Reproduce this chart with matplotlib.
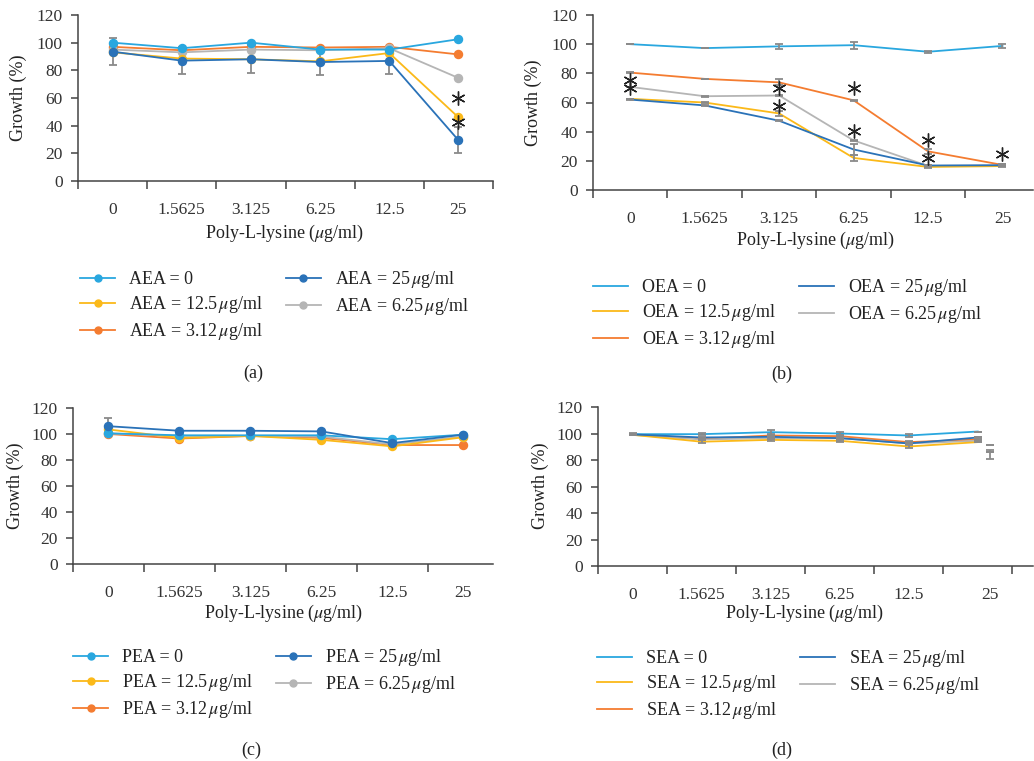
import numpy as np
import matplotlib.pyplot as plt
from matplotlib.lines import Line2D

plt.rcParams['font.family'] = ['Liberation Serif', 'DejaVu Serif']
plt.rcParams['mathtext.fontset'] = 'stix'

W, H = 1034, 761

# x categories (poly-L-lysine, ug/ml)
categories = ['0', '1.5625', '3.125', '6.25', '12.5', '25']
# legend order: 0, 12.5, 3.12, 25, 6.25
doses = ['0', '12.5', '3.12', '25', '6.25']
colors = ['#29a7df', '#fbb919', '#f47c30', '#2a72b8', '#b5b5b5']

# (a) AEA
aea_growth = [
    [100, 96, 100, 95, 95, 102.5],
    [93, 88.5, 88, 86.5, 92.5, 46],
    [97, 94.5, 97, 96.5, 97, 91.5],
    [93.5, 87, 88, 86, 86.8, 29.5],
    [95, 93, 95, 94.5, 96, 74.5],
]
aea_err = [
    [0, 0, 0, 0, 0, 0],
    [0, 0, 0, 0, 0, 0],
    [0, 0, 0, 0, 0, 0],
    [10, 10, 9.7, 9.5, 9.5, 9.6],
    [0, 0, 0, 0, 0, 0],
]
aea_star_x = [5, 5]
aea_star_y = [60, 43]

# (b) OEA
oea_growth = [
    [100, 97.3, 98.5, 99.3, 94.8, 98.8],
    [62.5, 60, 52.5, 22, 15.8, 16.4],
    [80.5, 76.2, 73.8, 61.5, 26.5, 17.2],
    [62, 58, 47.5, 27.8, 16.8, 17],
    [70.7, 64.3, 64.8, 34, 16.5, 16.8],
]
oea_err = [
    [0.2, 0.2, 1.5, 2.5, 0.8, 1.5],
    [0.2, 0.2, 2, 1.8, 0.6, 0.5],
    [0.2, 0.2, 2, 0.2, 1.5, 0.5],
    [0.2, 0.2, 0.2, 4, 0.5, 0.5],
    [0.2, 0.2, 0.2, 0.2, 0.5, 0.5],
]
oea_star_x = [0, 0, 2, 2, 3, 3, 4, 4, 5]
oea_star_y = [75.5, 69.8, 69.8, 57.7, 69.8, 40.2, 34.5, 21.9, 24.9]

# (c) PEA
pea_growth = [
    [100.5, 99, 99, 99, 96, 99.5],
    [103.5, 97, 98.5, 95.5, 90.5, 97.5],
    [100, 96.5, 98.5, 97, 91.5, 91.5],
    [106, 102.5, 102.5, 102, 93, 99.5],
    [100.5, 98.5, 98.5, 98, 92, 98],
]
pea_err = [
    [0, 0, 0, 0, 0, 0],
    [0, 0, 0, 0, 0, 0],
    [0, 0, 0, 0, 0, 0],
    [6, 0, 0, 0, 0, 0],
    [0, 0, 0, 0, 0, 0],
]

# (d) SEA
sea_growth = [
    [99.5, 99.5, 101, 100, 98.5, 101.5],
    [99, 93.8, 95.2, 94.5, 90.2, 93.5],
    [99.3, 96, 98.5, 98, 93.5, 95.5],
    [99.3, 97, 97.5, 96.5, 92.5, 97],
    [99, 95.5, 96.5, 96.5, 92.5, 94.5],
]
sea_err = [
    [0.6, 0.8, 1.5, 1.2, 0.8, 0],
    [0.5, 1, 1, 1, 0.8, 0],
    [0.5, 0.5, 0.5, 0.5, 0.5, 0],
    [0.5, 0.5, 1.5, 2, 0.8, 0],
    [0.5, 0.5, 0.5, 0.5, 0.5, 0],
]
# stray error bars right of the last point
sea_extra_x = [5.17, 5.17, 5.17]
sea_extra_y = [91.5, 86, 84]
sea_extra_err = [0, 0, 3.3]

draw_order = [2, 4, 1, 0, 3]

fig = plt.figure(figsize=(W / 100, H / 100), dpi=100)


def rect(left, right, top, bottom):
    return [left / W, 1 - bottom / H, (right - left) / W, (bottom - top) / H]


def panel(r, xmax, growth, err, markers, err_on_top, label_x=None):
    ax = fig.add_axes(r)
    x = np.arange(len(categories))
    for i in draw_order:
        ax.plot(x, growth[i], color=colors[i], lw=1.3, zorder=3,
                marker='o' if markers else None, ms=5.8)
        if any(e > 0 for e in err[i]):
            ax.errorbar(x, growth[i], yerr=err[i], fmt='none', ecolor='#8a8a8a',
                        elinewidth=1.3, capsize=3, capthick=1.3,
                        zorder=4 if err_on_top else 2)
    ax.set_xlim(-0.5, xmax)
    ax.set_ylim(0, 120)
    ax.set_yticks(range(0, 121, 20))
    ticks = [t for t in np.arange(-0.5, 6, 1.0) if t <= xmax + 0.01]
    ax.set_xticks(ticks)
    ax.set_xticklabels([])
    ax.set_xticks(label_x if label_x is not None else x, minor=True)
    ax.set_xticklabels(categories, minor=True)
    ax.tick_params(axis='x', which='major', direction='out', length=6, width=1.1, color='#444444')
    ax.tick_params(axis='x', which='minor', length=0, pad=15, labelsize=12.5, labelcolor='#333333')
    ax.tick_params(axis='y', direction='out', length=5, width=1.1, color='#444444',
                   pad=6, labelsize=12.5, labelcolor='#333333')
    for s in ['top', 'right']:
        ax.spines[s].set_visible(False)
    for s in ['left', 'bottom']:
        ax.spines[s].set_color('#444444')
        ax.spines[s].set_linewidth(1.1)
    return ax


def stars(ax, xs, ys):
    ax.plot(xs, ys, ls='none', marker=(6, 2, 0), ms=10, mew=1.0, color='#222222', zorder=5)


def legend(prefix, markers, x, y):
    handles = [Line2D([], [], color=c, lw=1.3, marker='o' if markers else None, ms=5)
               for c in colors]
    labels = [prefix + ' = 0' if d == '0' else prefix + ' = ' + d + r'$\,\mu$g/ml' for d in doses]
    fig.legend(handles, labels, ncol=2, loc='upper left',
               bbox_to_anchor=(x / W, 1 - y / H), frameon=False, borderpad=0,
               borderaxespad=0, handlelength=1.95, handletextpad=0.78,
               columnspacing=1.25, labelspacing=0.34, fontsize=13,
               labelcolor='#222222')


def text(x, y, s, **kw):
    fig.text(x / W, 1 - y / H, s, ha='center', va='center', fontsize=13,
             color='#222222', **kw)


ax_a = panel(rect(78, 493, 15, 181), 5.5, aea_growth, aea_err, True, False)
stars(ax_a, aea_star_x, aea_star_y)
ax_b = panel(rect(593, 1033, 15, 190), 5.41, oea_growth, oea_err, False, True)
stars(ax_b, oea_star_x, oea_star_y)
ax_c = panel(rect(73, 493, 408, 564), 5.42, pea_growth, pea_err, True, False)
ax_d = panel(rect(598, 1033, 407, 566), 5.8, sea_growth, sea_err, False, True,
             label_x=[0, 1, 2, 3, 4, 5.17])
ax_d.errorbar(sea_extra_x, sea_extra_y, yerr=sea_extra_err, fmt='none', ecolor='#8a8a8a',
              elinewidth=1.3, capsize=3, capthick=1.3, zorder=4)

# axis titles
ylab = 'Growth (%)'
xlab = r'Poly-L-lysine ($\mu$g/ml)'
text(18, 98, ylab, rotation=90)
text(533, 103, ylab, rotation=90)
text(15, 486, ylab, rotation=90)
text(540, 486, ylab, rotation=90)
text(285, 233, xlab)
text(816, 240, xlab)
text(284, 613, xlab)
text(805, 613, xlab)

legend('AEA', True, 80, 269)
legend('OEA', False, 593, 277)
legend('PEA', True, 73, 647)
legend('SEA', False, 597, 648)

text(253, 373, '(a)')
text(782, 374, '(b)')
text(251, 750, '(c)')
text(782, 750, '(d)')

fig.savefig('out.png', dpi=100)
